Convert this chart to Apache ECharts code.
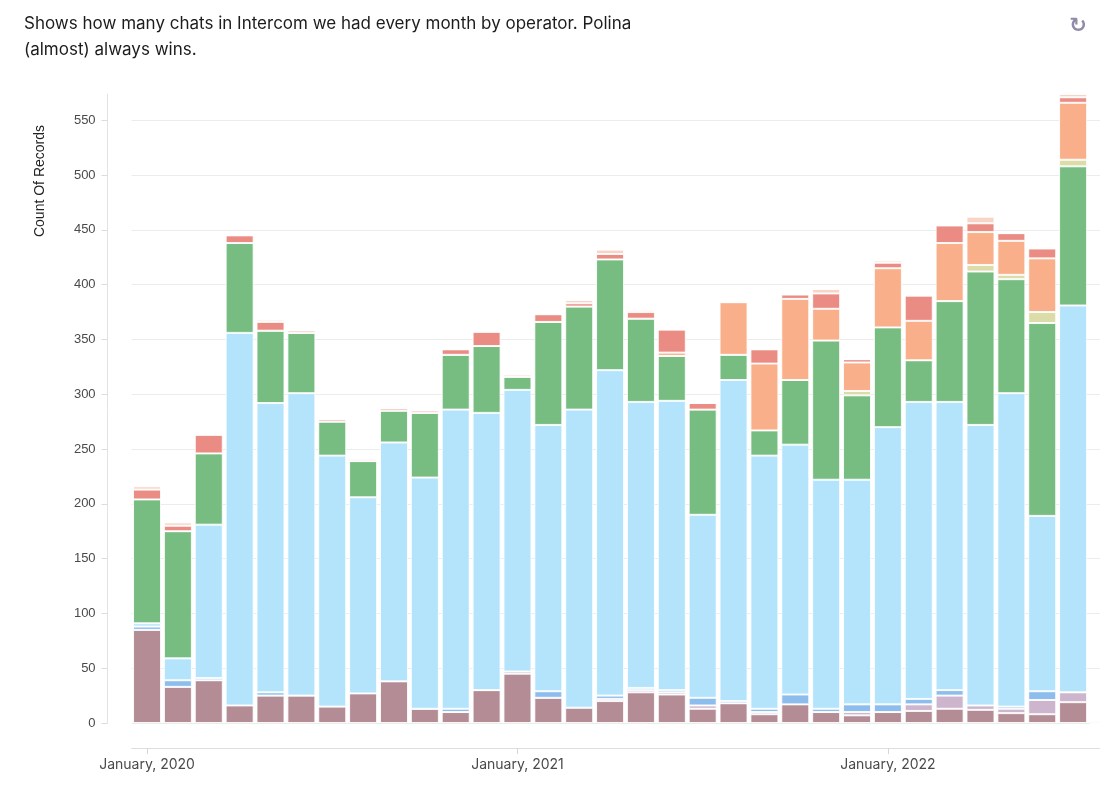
<!DOCTYPE html>
<html>
<head>
<meta charset="utf-8">
<script src="https://cdn.jsdelivr.net/npm/echarts@6/dist/echarts.min.js"></script>
<style>
html,body{margin:0;padding:0;background:#fff;}
#chart{width:1100px;height:791px;}
</style>
</head>
<body>
<div id="chart"></div>
<script>
const months = ['January, 2020','February, 2020','March, 2020','April, 2020','May, 2020','June, 2020','July, 2020','August, 2020','September, 2020','October, 2020','November, 2020','December, 2020',
'January, 2021','February, 2021','March, 2021','April, 2021','May, 2021','June, 2021','July, 2021','August, 2021','September, 2021','October, 2021','November, 2021','December, 2021',
'January, 2022','February, 2022','March, 2022','April, 2022','May, 2022','June, 2022','July, 2022','August, 2022'];

const brown     = [85,33,39,16,25,25,15,27,38,13,10,30, 45,23,14,20,28,26,13,18,8,17,10,7, 10,11,13,12,9,8,19,0];
const lilac     = [0,0,0,0,0,0,0,0,0,0,0,0, 2,0,0,2,2,2,3,0,2,0,0,3, 0,6,12,4,4,13,9,0];
const blue      = [3,6,2,0,3,0,0,0,0,0,3,0, 0,6,0,3,2,2,7,2,3,9,3,7, 7,5,5,0,2,8,0,0];
const lightBlue = [3,20,140,340,264,276,229,179,218,211,273,253, 257,243,272,297,261,264,167,293,231,228,209,205, 253,271,263,256,286,160,353,2];
const green     = [113,116,65,82,66,55,31,33,29,59,50,61, 12,94,94,101,76,41,96,23,23,59,127,77, 91,38,92,140,104,176,127,0];
const olive     = [0,0,0,0,0,0,0,0,0,0,0,0, 0,0,0,0,0,0,0,0,0,0,0,4, 0,0,0,6,4,10,6,0];
const orange    = [0,0,0,0,0,0,0,0,0,0,0,0, 0,0,0,0,0,3,0,48,61,74,29,26, 54,36,53,30,31,49,52,0];
const red       = [9,5,17,7,8,2,2,0,2,2,5,13, 0,7,3,5,6,21,6,0,13,4,14,3, 5,23,16,8,7,9,5,0];
const pale      = [3,3,0,0,2,1,0,2,0,1,0,0, 2,0,3,4,2,0,0,0,0,0,4,0, 2,0,0,6,0,0,3,0];

const yTicks = [0,50,100,150,200,250,300,350,400,450,500,550];

const seriesDefs = [
  ['brown', brown, '#b48c95'],
  ['lilac', lilac, '#cdb6cd'],
  ['blue', blue, '#8dbdec'],
  ['lightBlue', lightBlue, '#b4e4fc'],
  ['green', green, '#77bd81'],
  ['olive', olive, '#dcdca8'],
  ['orange', orange, '#f9af89'],
  ['red', red, '#ea8c84'],
  ['pale', pale, '#f7d4c5']
];

const chart = echarts.init(document.getElementById('chart'), null, {renderer:'canvas'});
const isJan = (idx) => idx % 12 === 0;

chart.setOption({
  animation: false,
  backgroundColor: '#fff',
  grid: {left: 131.6, width: 987.8, top: 94, height: 629, containLabel: false, outerBoundsMode: 'none'},
  xAxis: {
    type: 'category',
    data: months,
    offset: 25,
    axisLine: {show: true, onZero: false, lineStyle: {color: '#dedede', width: 1}},
    axisTick: {show: true, alignWithLabel: true, interval: isJan, length: 6, lineStyle: {color: '#d6d6d6'}},
    axisLabel: {interval: isJan, color: '#4a4a4a', fontSize: 14, fontFamily: 'Inter, Liberation Sans, sans-serif', margin: 10},
    splitLine: {show: false}
  },
  yAxis: {
    type: 'value',
    min: 0,
    max: 574,
    interval: 50,
    offset: 24,
    axisLine: {show: true, lineStyle: {color: '#e3e3e3', width: 1}},
    axisTick: {show: true, length: 6, lineStyle: {color: '#dcdcdc'}},
    axisLabel: {
      color: '#4a4a4a', fontSize: 13, fontFamily: 'Liberation Sans, Arial, sans-serif', margin: 12,
      showMaxLabel: false,
      formatter: (v) => yTicks.indexOf(v) >= 0 ? String(v) : ''
    },
    splitLine: {show: true, showMaxLine: false, lineStyle: {color: '#ececec', width: 1}}
  },
  series: seriesDefs.map(([name, data, color]) => ({
    name, type: 'bar', stack: 'total', data, barWidth: 28,
    itemStyle: {color, borderColor: 'rgba(255,255,255,0.85)', borderWidth: 1},
    emphasis: {disabled: true}
  })),
  graphic: [
    {type: 'text', left: 24, top: 11, style: {
      text: 'Shows how many chats in Intercom we had every month by operator. Polina\n(almost) always wins.',
      fill: '#1c1c1c', fontSize: 17, lineHeight: 26, fontFamily: 'Inter, Liberation Sans, sans-serif'}},
    {type: 'text', x: 40, y: 181, rotation: Math.PI/2, style: {
      text: 'Count Of Records', fill: '#222', fontSize: 14, fontWeight: 500,
      fontFamily: 'Liberation Sans, Arial, sans-serif', align: 'center', verticalAlign: 'middle'}},
    {type: 'text', x: 1078, y: 27, style: {
      text: '\u21BB', fill: '#8f8ba8', fontSize: 21, fontWeight: 'bold', fontFamily: 'DejaVu Sans',
      align: 'center', verticalAlign: 'middle'}}
  ]
});
</script>
</body>
</html>
